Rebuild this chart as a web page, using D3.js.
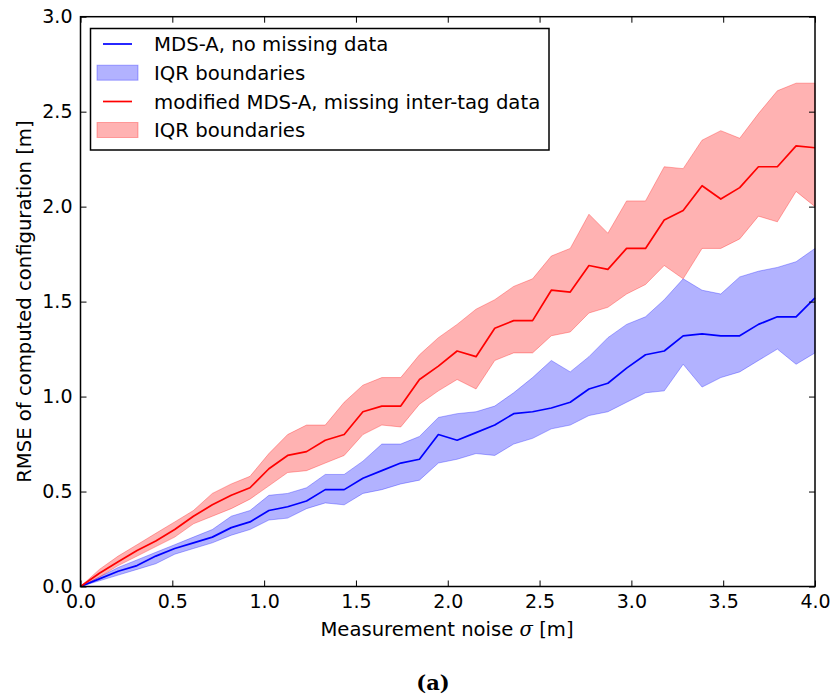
<!DOCTYPE html>
<html>
<head>
<meta charset="utf-8">
<script src="https://cdn.jsdelivr.net/npm/d3@7"></script>
<style>
  html, body { margin: 0; padding: 0; background: #fff; }
  svg { display: block; }
  text { font-family: "DejaVu Sans", sans-serif; fill: #000; }
</style>
</head>
<body>
<svg id="chart" width="831" height="700"></svg>
<script>
// Measurement noise levels sigma [m]
const sigma = [0, 0.103, 0.205, 0.308, 0.410, 0.513, 0.615, 0.718, 0.821, 0.923,
  1.026, 1.128, 1.231, 1.333, 1.436, 1.538, 1.641, 1.744, 1.846, 1.949,
  2.051, 2.154, 2.256, 2.359, 2.462, 2.564, 2.667, 2.769, 2.872, 2.974,
  3.077, 3.179, 3.282, 3.385, 3.487, 3.590, 3.692, 3.795, 3.897, 4.000];

// MDS-A, no missing data: median RMSE and interquartile range
const fullMedian = [0, 0.04, 0.08, 0.11, 0.16, 0.20, 0.23, 0.26, 0.31, 0.34,
  0.40, 0.42, 0.45, 0.51, 0.51, 0.57, 0.61, 0.65, 0.67, 0.80,
  0.77, 0.81, 0.85, 0.91, 0.92, 0.94, 0.97, 1.04, 1.07, 1.15,
  1.22, 1.24, 1.32, 1.33, 1.32, 1.32, 1.38, 1.42, 1.42, 1.52];
const fullQ3 = [0, 0.05, 0.10, 0.14, 0.18, 0.22, 0.26, 0.30, 0.37, 0.40,
  0.48, 0.49, 0.52, 0.59, 0.59, 0.66, 0.75, 0.75, 0.79, 0.89,
  0.91, 0.92, 0.95, 1.02, 1.10, 1.19, 1.13, 1.21, 1.31, 1.38,
  1.42, 1.51, 1.62, 1.56, 1.54, 1.63, 1.66, 1.68, 1.71, 1.78];
const fullQ1 = [0, 0.03, 0.06, 0.09, 0.12, 0.17, 0.20, 0.23, 0.27, 0.30,
  0.35, 0.36, 0.41, 0.44, 0.43, 0.49, 0.51, 0.54, 0.56, 0.65,
  0.67, 0.70, 0.69, 0.75, 0.78, 0.83, 0.85, 0.90, 0.92, 0.97,
  1.02, 1.03, 1.17, 1.05, 1.10, 1.13, 1.19, 1.25, 1.17, 1.23];

// modified MDS-A, missing inter-tag data: median RMSE and interquartile range
const missMedian = [0, 0.07, 0.13, 0.19, 0.24, 0.30, 0.37, 0.43, 0.48, 0.52,
  0.62, 0.69, 0.71, 0.77, 0.80, 0.92, 0.95, 0.95, 1.09, 1.16,
  1.24, 1.21, 1.36, 1.40, 1.40, 1.56, 1.55, 1.69, 1.67, 1.78,
  1.78, 1.93, 1.98, 2.11, 2.04, 2.10, 2.21, 2.21, 2.32, 2.31];
const missQ3 = [0, 0.09, 0.16, 0.22, 0.28, 0.34, 0.40, 0.49, 0.54, 0.58,
  0.70, 0.80, 0.85, 0.85, 0.97, 1.06, 1.10, 1.10, 1.22, 1.31,
  1.38, 1.46, 1.51, 1.58, 1.62, 1.74, 1.78, 1.96, 1.86, 2.03,
  2.03, 2.21, 2.20, 2.35, 2.40, 2.36, 2.49, 2.61, 2.65, 2.65];
const missQ1 = [0, 0.05, 0.11, 0.16, 0.21, 0.26, 0.33, 0.37, 0.41, 0.46,
  0.53, 0.60, 0.61, 0.65, 0.69, 0.80, 0.85, 0.84, 0.96, 1.03,
  1.09, 1.04, 1.19, 1.23, 1.23, 1.32, 1.34, 1.44, 1.47, 1.54,
  1.59, 1.69, 1.62, 1.78, 1.78, 1.83, 1.95, 1.92, 2.08, 2.00];

const xTicks = [0, 0.5, 1.0, 1.5, 2.0, 2.5, 3.0, 3.5, 4.0];
const yTicks = [0, 0.5, 1.0, 1.5, 2.0, 2.5, 3.0];

const legendLabels = [
  "MDS-A, no missing data",
  "IQR boundaries",
  "modified MDS-A, missing inter-tag data",
  "IQR boundaries"
];

const svg = d3.select("#chart");
const plotL = 80.5, plotR = 815, plotT = 16.7, plotB = 586.5;

const x = d3.scaleLinear().domain([0, 4]).range([plotL, plotR]);
const y = d3.scaleLinear().domain([0, 3]).range([plotB, plotT]);

const series = [
  { med: fullMedian, lo: fullQ1, hi: fullQ3, color: "#0000ff" },
  { med: missMedian, lo: missQ1, hi: missQ3, color: "#ff0000" }
];

const area = d3.area()
  .x(d => x(d.s)).y0(d => y(d.lo)).y1(d => y(d.hi));
const line = d3.line().x(d => x(d.s)).y(d => y(d.v));

const plot = svg.append("g");
series.forEach(sr => {
  const band = sigma.map((s, i) => ({ s, lo: sr.lo[i], hi: sr.hi[i] }));
  plot.append("path")
    .attr("d", area(band))
    .attr("fill", sr.color).attr("fill-opacity", 0.3)
    .attr("stroke", sr.color).attr("stroke-opacity", 0.3)
    .attr("stroke-width", 1);
});
series.forEach(sr => {
  const pts = sigma.map((s, i) => ({ s, v: sr.med[i] }));
  plot.append("path")
    .attr("d", line(pts))
    .attr("fill", "none")
    .attr("stroke", sr.color)
    .attr("stroke-width", 1.7)
    .attr("stroke-linejoin", "round");
});

// Axes with inward ticks on all four sides
const tickLen = 6;
const axBottom = svg.append("g").attr("transform", `translate(0,${plotB})`)
  .call(d3.axisBottom(x).tickValues(xTicks).tickSize(-tickLen).tickPadding(8)
    .tickFormat(d3.format(".1f")));
const axTop = svg.append("g").attr("transform", `translate(0,${plotT})`)
  .call(d3.axisTop(x).tickValues(xTicks).tickSize(-tickLen).tickFormat(""));
const axLeft = svg.append("g").attr("transform", `translate(${plotL},0)`)
  .call(d3.axisLeft(y).tickValues(yTicks).tickSize(-tickLen).tickPadding(8)
    .tickFormat(d3.format(".1f")));
const axRight = svg.append("g").attr("transform", `translate(${plotR},0)`)
  .call(d3.axisRight(y).tickValues(yTicks).tickSize(-tickLen).tickFormat(""));

[axBottom, axTop, axLeft, axRight].forEach(g => {
  g.select(".domain").remove();
  g.selectAll(".tick line").attr("stroke", "#000").attr("stroke-width", 1);
  g.selectAll(".tick text")
    .style("font-family", "DejaVu Sans").style("font-size", "19px").attr("fill", "#000");
});

svg.append("rect")
  .attr("x", plotL).attr("y", plotT)
  .attr("width", plotR - plotL).attr("height", plotB - plotT)
  .attr("fill", "none").attr("stroke", "#000").attr("stroke-width", 1.5);

// Axis titles
const xt = svg.append("text")
  .attr("x", 447).attr("y", 636)
  .attr("text-anchor", "middle")
  .style("font-size", "19.6px");
xt.append("tspan").text("Measurement noise ");
xt.append("tspan").text("σ").style("font-style", "italic").style("font-family", "DejaVu Serif");
xt.append("tspan").text(" [m]");

svg.append("text")
  .attr("transform", `translate(31,${(plotT + plotB) / 2}) rotate(-90)`)
  .attr("text-anchor", "middle")
  .style("font-size", "19.6px")
  .text("RMSE of computed configuration [m]");

// Sub-figure caption
svg.append("text")
  .attr("x", 433).attr("y", 690)
  .attr("text-anchor", "middle")
  .style("font-family", "DejaVu Serif").style("font-weight", "bold")
  .style("font-size", "21px")
  .text("(a)");

// Legend
const lg = svg.append("g");
lg.append("rect")
  .attr("x", 90.5).attr("y", 28.5).attr("width", 458.5).attr("height", 121.5)
  .attr("fill", "#fff").attr("stroke", "#000").attr("stroke-width", 1.5);
const rowY = [44, 72.7, 101.5, 130];
legendLabels.forEach((lab, i) => {
  const sr = series[Math.floor(i / 2)];
  if (i % 2 === 0) {
    lg.append("line")
      .attr("x1", 103).attr("x2", 132).attr("y1", rowY[i]).attr("y2", rowY[i])
      .attr("stroke", sr.color).attr("stroke-width", 1.7);
  } else {
    lg.append("rect")
      .attr("x", 97).attr("y", rowY[i] - 7.5).attr("width", 41).attr("height", 15)
      .attr("fill", sr.color).attr("fill-opacity", 0.3)
      .attr("stroke", sr.color).attr("stroke-opacity", 0.3).attr("stroke-width", 1);
  }
  lg.append("text")
    .attr("x", 154).attr("y", rowY[i] + 7)
    .style("font-size", "19.7px")
    .text(lab);
});
</script>
</body>
</html>
